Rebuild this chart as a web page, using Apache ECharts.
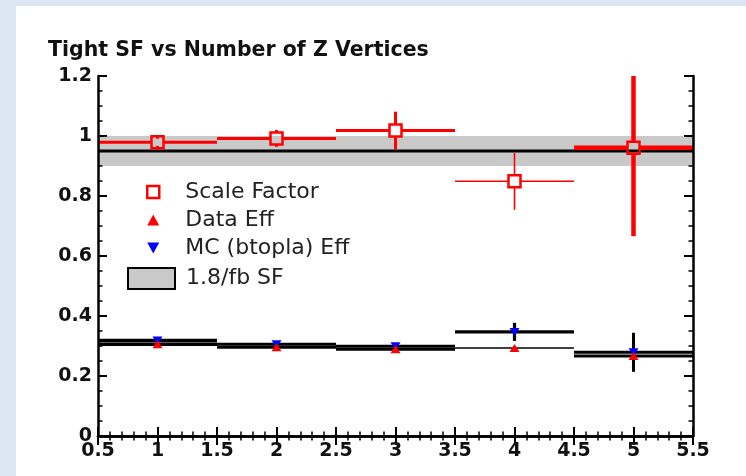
<!DOCTYPE html>
<html>
<head>
<meta charset="utf-8">
<script src="https://cdn.jsdelivr.net/npm/echarts@6/dist/echarts.min.js"></script>
<style>
html,body{margin:0;padding:0;background:#dbe7f3;}
#chart{width:746px;height:476px;}
</style>
</head>
<body>
<div id="chart"></div>
<script>
// ---- data ----
const titleText = 'Tight SF vs Number of Z Vertices';
const nVertices = [1, 2, 3, 4, 5];
const binHalf = 0.5;
const sfValues = [0.979, 0.992, 1.018, 0.849, 0.961];
const sfErrors = [0.012, 0.028, 0.063, 0.095, 0.295];
const dataEff = [0.306, 0.296, 0.289, 0.293, 0.267];
const dataEffErr = [0, 0, 0, 0, 0];
const mcEff = [0.318, 0.306, 0.299, 0.347, 0.279];
const mcEffErr = [0, 0, 0, 0.03, 0.065];
const bandCenter = 0.95;
const bandHalf = 0.05;
const legendNames = ['Scale Factor', 'Data Eff', 'MC (btopla) Eff', '1.8/fb SF'];
const xMin = 0.5, xMax = 5.5, xStep = 0.5;
const yMin = 0, yMax = 1.2, yStep = 0.2;

// ---- styles ----
const sfWidths = [3, 3, 3, 1.6, 4.5];
const dataWidths = [3.5, 3, 3, 1.5, 3];
const mcWidths = [3.5, 3, 3, 3.2, 3];
const FONT = 'DejaVu Sans';

function rows(xs, ys, es) { return xs.map((x, i) => [x, ys[i], es[i]]); }

function barRenderer(color, widths, gapPx) {
  return function (params, api) {
    const x = api.value(0), y = api.value(1), e = api.value(2);
    const c = api.coord([x, y]);
    const l = api.coord([x - binHalf, y]);
    const r = api.coord([x + binHalf, y]);
    const t = api.coord([x, y + e]);
    const b = api.coord([x, y - e]);
    const lw = widths[params.dataIndex];
    const children = [];
    const seg = (x1, y1, x2, y2) => children.push({
      type: 'line', shape: { x1, y1, x2, y2 },
      style: { stroke: color, lineWidth: lw, lineCap: 'butt' }
    });
    seg(l[0], c[1], c[0] - gapPx, c[1]);
    seg(c[0] + gapPx, c[1], r[0], c[1]);
    if (e > 0) {
      seg(c[0], t[1], c[0], c[1] - gapPx);
      seg(c[0], c[1] + gapPx, c[0], b[1]);
    }
    return { type: 'group', children };
  };
}

function bandRenderer(params, api) {
  const cs = params.coordSys;
  const top = api.coord([xMin, api.value(0) + api.value(1)])[1];
  const bot = api.coord([xMin, api.value(0) - api.value(1)])[1];
  const mid = api.coord([xMin, api.value(0)])[1];
  return {
    type: 'group',
    children: [
      { type: 'rect', shape: { x: cs.x, y: top, width: cs.width, height: bot - top },
        style: { fill: '#c9c9c9' } },
      { type: 'line', shape: { x1: cs.x, y1: mid, x2: cs.x + cs.width, y2: mid },
        style: { stroke: '#000', lineWidth: 3 } }
    ]
  };
}

const downTri = 'path://M0,0 L10,0 L5,9 Z';
const upTri = 'path://M5,0 L10,9 L0,9 Z';

const axisCommon = {
  type: 'value',
  z: 10,
  axisLine: { show: true, lineStyle: { color: '#000', width: 2.5 } },
  axisTick: { show: true, inside: true, length: 9, lineStyle: { color: '#000', width: 2 } },
  minorTick: { show: true, length: 4.5, lineStyle: { color: '#000', width: 1.5 } },
  splitLine: { show: false },
  minorSplitLine: { show: false }
};
const labelStyle = { color: '#111', fontFamily: FONT, fontWeight: 'bold', fontSize: 19 };

const chart = echarts.init(document.getElementById('chart'), null, { renderer: 'canvas' });
chart.setOption({
  animation: false,
  backgroundColor: '#dbe7f3',
  graphic: [{ type: 'rect', z: 0, shape: { x: 16, y: 6, width: 730, height: 470 }, style: { fill: '#ffffff' } }],
  title: {
    text: titleText, left: 43, top: 35,
    textStyle: { fontFamily: FONT, fontWeight: 'bold', fontSize: 20.5, color: '#111' }
  },
  grid: { left: 98, right: 53, top: 76, bottom: 40 },
  xAxis: [
    Object.assign({}, axisCommon, {
      position: 'bottom', min: xMin, max: xMax, interval: xStep,
      minorTick: Object.assign({}, axisCommon.minorTick, { splitNumber: 5 }),
      axisLabel: Object.assign({ margin: 6 }, labelStyle)
    }),
    Object.assign({}, axisCommon, {
      position: 'top', min: xMin, max: xMax, interval: xStep,
      minorTick: Object.assign({}, axisCommon.minorTick, { splitNumber: 5 }),
      axisLabel: { show: false }
    })
  ],
  yAxis: [
    Object.assign({}, axisCommon, {
      position: 'left', min: yMin, max: yMax, interval: yStep,
      minorTick: Object.assign({}, axisCommon.minorTick, { splitNumber: 4 }),
      axisLabel: Object.assign({ margin: 6 }, labelStyle)
    }),
    Object.assign({}, axisCommon, {
      position: 'right', min: yMin, max: yMax, interval: yStep,
      minorTick: Object.assign({}, axisCommon.minorTick, { splitNumber: 4 }),
      axisLabel: { show: false }
    })
  ],
  legend: [
    {
      orient: 'vertical', left: 146, top: 181, padding: 0, itemGap: 6,
      itemWidth: 12, itemHeight: 12, selectedMode: false,
      textStyle: { fontFamily: FONT, fontSize: 22, color: '#222', padding: [0, 0, 0, 21] },
      data: [
        { name: legendNames[0], icon: 'rect', itemStyle: { color: '#fff', borderColor: '#ff0000', borderWidth: 2.5 } },
        { name: legendNames[1], icon: upTri, itemStyle: { color: '#ff0000', borderWidth: 0 } },
        { name: legendNames[2], icon: downTri, itemStyle: { color: '#0000ff', borderWidth: 0 } }
      ]
    },
    {
      orient: 'vertical', left: 127, top: 267, padding: 0,
      itemWidth: 47, itemHeight: 21, selectedMode: false,
      textStyle: { fontFamily: FONT, fontSize: 22, color: '#222', padding: [0, 0, 0, 6] },
      data: [
        { name: legendNames[3], icon: 'rect', itemStyle: { color: '#c9c9c9', borderColor: '#000', borderWidth: 2 } }
      ]
    }
  ],
  series: [
    {
      name: legendNames[3], type: 'custom', z: 1, clip: true,
      itemStyle: { color: '#c9c9c9' },
      renderItem: bandRenderer, data: [[bandCenter, bandHalf]]
    },
    {
      type: 'custom', z: 3, clip: true,
      renderItem: barRenderer('#000', dataWidths, 0),
      data: rows(nVertices, dataEff, dataEffErr)
    },
    {
      type: 'custom', z: 3, clip: true,
      renderItem: barRenderer('#000', mcWidths, 0),
      data: rows(nVertices, mcEff, mcEffErr)
    },
    {
      type: 'custom', z: 4, clip: true,
      renderItem: barRenderer('#ff0000', sfWidths, 6),
      data: rows(nVertices, sfValues, sfErrors)
    },
    {
      name: legendNames[0], type: 'scatter', z: 5,
      symbol: 'rect', symbolSize: 12,
      itemStyle: { color: 'rgba(0,0,0,0)', borderColor: '#ff0000', borderWidth: 2.5, opacity: 1 },
      data: nVertices.map((x, i) => [x, sfValues[i]])
    },
    {
      name: legendNames[2], type: 'scatter', z: 6,
      symbol: downTri, symbolSize: [10, 8],
      itemStyle: { color: '#0000ff', opacity: 1 },
      data: nVertices.map((x, i) => [x, mcEff[i]])
    },
    {
      name: legendNames[1], type: 'scatter', z: 7,
      symbol: upTri, symbolSize: [10, 8],
      itemStyle: { color: '#ff0000', opacity: 1 },
      data: nVertices.map((x, i) => [x, dataEff[i]])
    }
  ]
});
</script>
</body>
</html>
